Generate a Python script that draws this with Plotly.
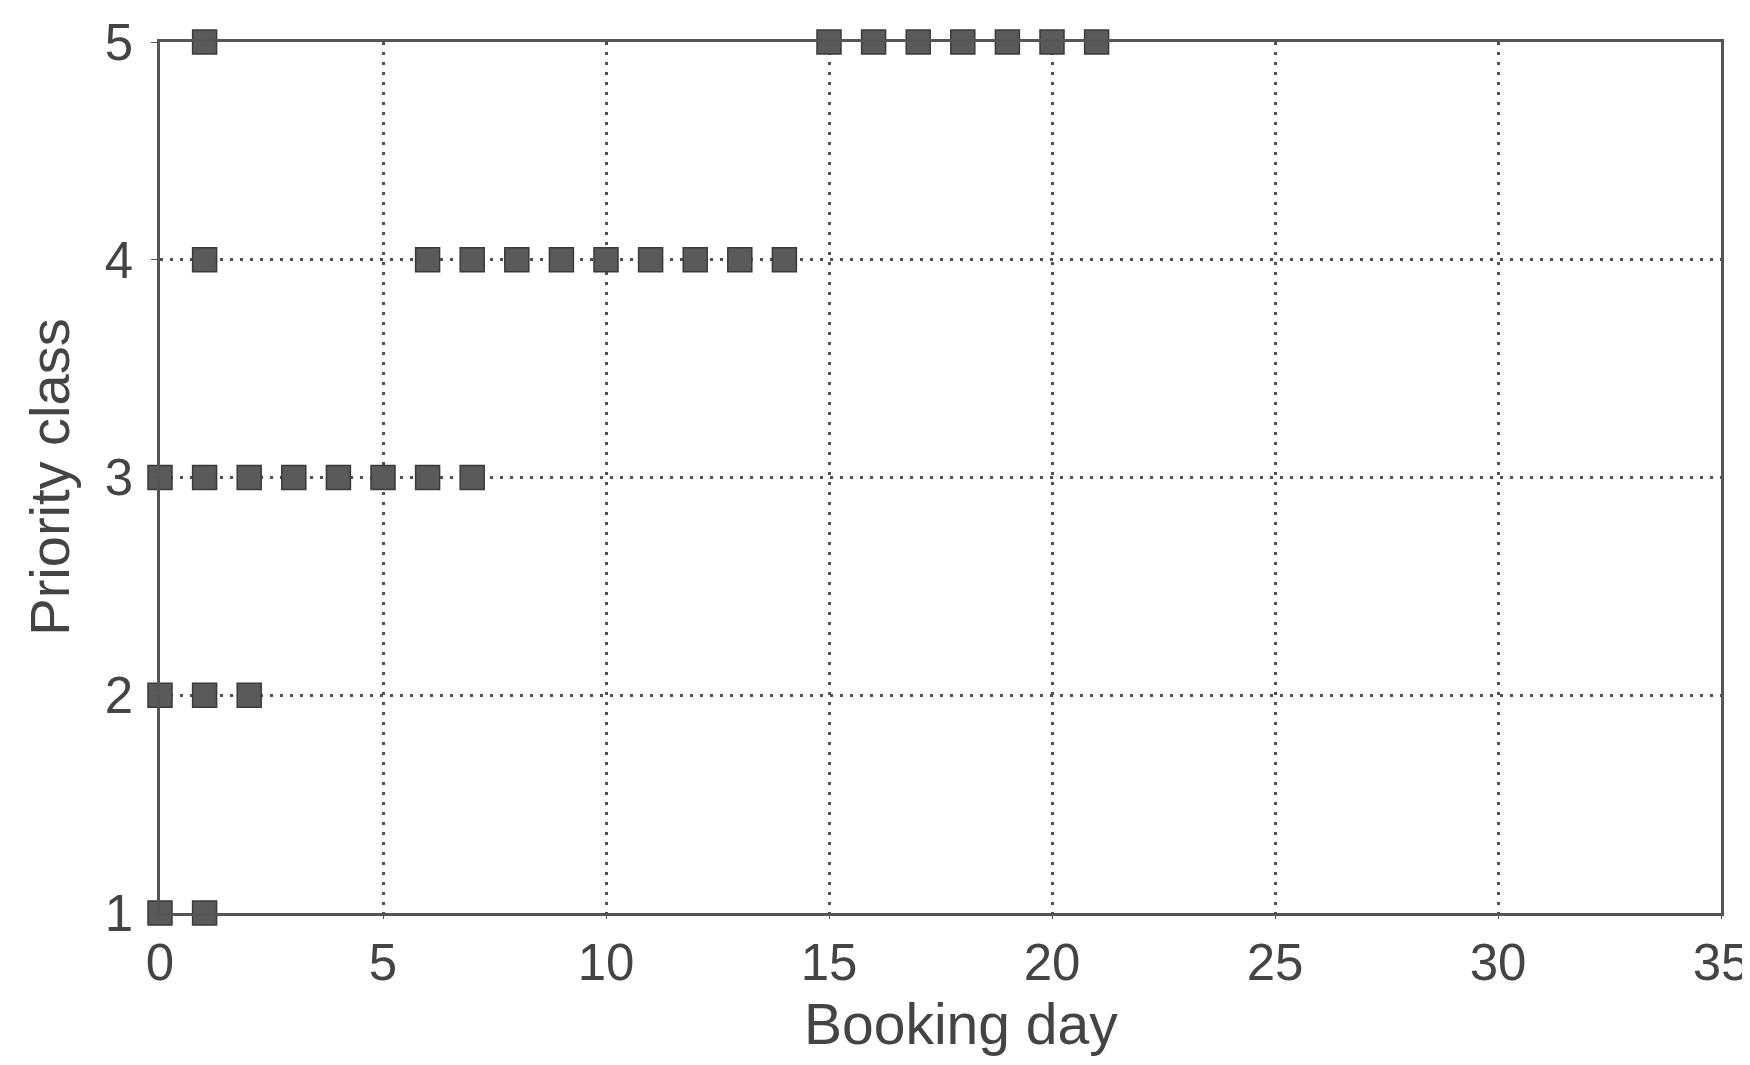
import plotly.graph_objects as go

# Booking days observed for each priority class
priority_classes = [1, 2, 3, 4, 5]
class_1_days = [0, 1]
class_2_days = [0, 1, 2]
class_3_days = [0, 1, 2, 3, 4, 5, 6, 7]
class_4_days = [1, 6, 7, 8, 9, 10, 11, 12, 13, 14]
class_5_days = [1, 15, 16, 17, 18, 19, 20, 21]
days_by_class = [class_1_days, class_2_days, class_3_days, class_4_days, class_5_days]

x_ticks = [0, 5, 10, 15, 20, 25, 30, 35]
y_ticks = [1, 2, 3, 4, 5]
x_title = "Booking day"
y_title = "Priority class"

FONT = "Liberation Sans, Arial, sans-serif"
INK = "#444444"

fig = go.Figure()
for cls, days in zip(priority_classes, days_by_class):
    fig.add_trace(go.Scatter(
        x=days, y=[cls] * len(days), mode="markers",
        marker=dict(symbol="square", size=24, color="#5a5a5a",
                    line=dict(color="#3a3a3a", width=1.5)),
        cliponaxis=False, showlegend=False,
    ))

# The page body has an 8px margin, so the figure is sized to fit the window
fig.update_layout(
    width=1742, height=1049,
    margin=dict(l=152, r=29, t=34, b=144),
    paper_bgcolor="white", plot_bgcolor="white",
    font=dict(family=FONT, color=INK, size=50),
)
axis_style = dict(
    showgrid=True, gridcolor="#505050", gridwidth=3, griddash="3px,7px",
    showline=True, mirror=True, linecolor="#555555", linewidth=2.5,
    zeroline=False, ticks="outside", tickcolor="#555555",
    tickfont=dict(size=51, color=INK), automargin=False,
    ticklabeloverflow="allow",
)
fig.update_xaxes(range=[0, 35], tickvals=x_ticks, ticklen=3,
                 ticktext=[str(v) for v in x_ticks], **axis_style)
fig.update_yaxes(range=[1, 5], tickvals=y_ticks, ticklen=6,
                 ticktext=[str(v) for v in y_ticks], ticklabelstandoff=8,
                 **axis_style)

fig.add_annotation(text=x_title, xref="paper", yref="paper",
                   x=0.513, y=-0.127, xanchor="center", yanchor="middle",
                   showarrow=False, font=dict(size=57, color=INK))
fig.add_annotation(text=y_title, xref="paper", yref="paper",
                   x=-0.071, y=0.5, xanchor="center", yanchor="middle",
                   textangle=-90, showarrow=False,
                   font=dict(size=56, color=INK))

fig.write_html("out.html")
